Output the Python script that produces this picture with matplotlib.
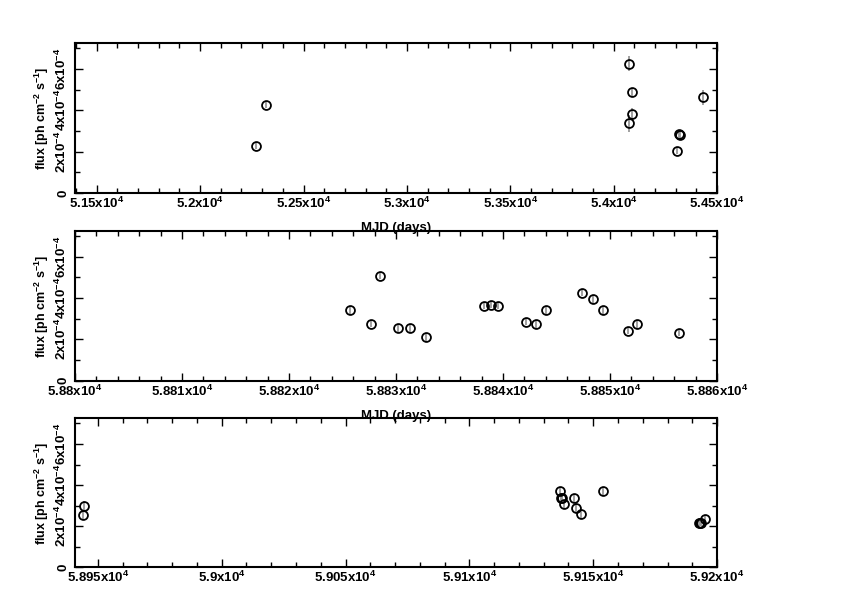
"""Light curve: flux vs MJD in three time windows (ROOT-like style)."""
import matplotlib
matplotlib.use("Agg")
import matplotlib.pyplot as plt
from matplotlib.ticker import FuncFormatter, MultipleLocator

plt.rcParams["font.family"] = ["Liberation Sans", "DejaVu Sans"]
plt.rcParams["font.weight"] = "bold"
plt.rcParams["axes.labelweight"] = "bold"
plt.rcParams["mathtext.fontset"] = "custom"
plt.rcParams["mathtext.rm"] = "Liberation Sans:bold"
plt.rcParams["mathtext.it"] = "Liberation Sans:bold"
plt.rcParams["mathtext.bf"] = "Liberation Sans:bold"

# ---------------------------------------------------------------------------
# Data
# ---------------------------------------------------------------------------
mjd1 = [52270, 52321, 54072, 54075, 54089, 54091, 54307, 54318, 54321, 54433]
flux1 = [2.29e-4, 4.26e-4, 6.26e-4, 3.37e-4, 3.83e-4, 4.86e-4, 2.05e-4,
         2.84e-4, 2.80e-4, 4.62e-4]
err1 = [0.15e-4, 0.15e-4, 0.36e-4, 0.40e-4, 0.29e-4, 0.20e-4, 0.15e-4,
        0.20e-4, 0.20e-4, 0.35e-4]

mjd2 = [58825.7, 58827.7, 58828.5, 58830.2, 58831.3, 58832.8, 58838.2,
        58838.9, 58839.5, 58842.1, 58843.1, 58844.0, 58847.4, 58848.4,
        58849.3, 58851.7, 58852.5, 58856.4]
flux2 = [3.41e-4, 2.75e-4, 5.08e-4, 2.55e-4, 2.55e-4, 2.10e-4, 3.63e-4,
         3.67e-4, 3.62e-4, 2.86e-4, 2.73e-4, 3.41e-4, 4.26e-4, 3.94e-4,
         3.41e-4, 2.41e-4, 2.73e-4, 2.31e-4]
err2 = [0.17e-4, 0.17e-4, 0.17e-4, 0.17e-4, 0.17e-4, 0.17e-4, 0.17e-4,
        0.17e-4, 0.17e-4, 0.17e-4, 0.17e-4, 0.17e-4, 0.17e-4, 0.20e-4,
        0.17e-4, 0.17e-4, 0.17e-4, 0.17e-4]

mjd3 = [58943.9, 58944.6, 59136.4, 59137.0, 59137.6, 59138.3, 59142.1,
        59143.1, 59145.1, 59154.1, 59192.6, 59193.0, 59193.5, 59195.0]
flux3 = [2.55e-4, 2.98e-4, 3.69e-4, 3.37e-4, 3.35e-4, 3.07e-4, 3.37e-4,
         2.91e-4, 2.58e-4, 3.69e-4, 2.15e-4, 2.16e-4, 2.14e-4, 2.34e-4]
err3 = [0.25e-4, 0.25e-4, 0.20e-4, 0.20e-4, 0.20e-4, 0.20e-4, 0.20e-4,
        0.20e-4, 0.20e-4, 0.20e-4, 0.15e-4, 0.15e-4, 0.15e-4, 0.15e-4]

panels = [
    (mjd1, flux1, err1, (51395, 54500), 500, 100),
    (mjd2, flux2, err2, (58800, 58860), 10, 2),
    (mjd3, flux3, err3, (58940.8, 59200), 50, 10),
]
ymax = 7.25e-4
FS = 9.5


def _xfmt(v, _pos):
    return f"{v / 1e4:g}x10$^{{4}}$"


def _yfmt(v, _pos):
    if abs(v) < 1e-12:
        return "0"
    return f"{v / 1e-4:g}x10$^{{-4}}$"


fig = plt.figure(figsize=(8.42, 5.95), dpi=100)
ax_rects = [
    [0.0891, 0.6756, 0.7625, 0.2521],
    [0.0891, 0.3602, 0.7625, 0.2516],
    [0.0891, 0.0465, 0.7625, 0.2505],
]

for idx, ((mjd, flux, err, xlim, major, minor), rect) in enumerate(zip(panels, ax_rects)):
    ax = fig.add_axes(rect)
    ax.patch.set_visible(False)
    ax.errorbar(mjd, flux, yerr=err, fmt="none", ecolor="#999999",
                elinewidth=1.3, capsize=0, zorder=2)
    ax.plot(mjd, flux, ls="none", marker="o", ms=6.4, mfc="none",
            mec="black", mew=1.3, zorder=3)

    ax.set_xlim(*xlim)
    ax.set_ylim(0, ymax)
    ax.xaxis.set_major_locator(MultipleLocator(major))
    ax.xaxis.set_minor_locator(MultipleLocator(minor))
    ax.yaxis.set_major_locator(MultipleLocator(2e-4))
    ax.yaxis.set_minor_locator(MultipleLocator(1e-4))
    ax.xaxis.set_major_formatter(FuncFormatter(_xfmt))
    ax.yaxis.set_major_formatter(FuncFormatter(_yfmt))

    ax.tick_params(which="both", direction="in", top=True, right=True,
                   labelsize=FS, width=1.0)
    ax.tick_params(which="major", length=6)
    ax.tick_params(which="minor", length=3.5)
    ax.tick_params(axis="x", pad=2)
    ax.tick_params(axis="y", pad=4)
    for lbl in ax.get_yticklabels():
        lbl.set_rotation(90)
        lbl.set_va("center")
    for sp in ax.spines.values():
        sp.set_linewidth(1.5)

    ax.set_ylabel(r"flux [ph cm$^{-2}$ s$^{-1}$]", fontsize=9, labelpad=2)
    if idx < 2:
        ax.set_xlabel("MJD (days)", fontsize=FS)
        ax.xaxis.set_label_coords(0.5, -0.233)
        ax.xaxis.label.set_va("center")

fig.savefig("out.png", dpi=100)
plt.close(fig)
